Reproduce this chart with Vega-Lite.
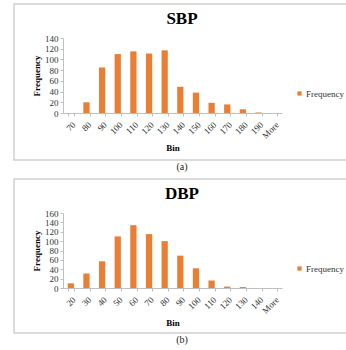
{
  "$schema": "https://vega.github.io/schema/vega-lite/v6.json",
  "padding": {"left": 13, "top": 3, "right": 0, "bottom": 0},
  "config": {
    "font": "Liberation Serif",
    "view": {"stroke": "#cfcfcf", "strokeWidth": 1.5},
    "axis": {"grid": false, "domainColor": "#bfbfbf", "tickColor": "#bfbfbf", "labelFont": "Liberation Serif", "labelFontSize": 9, "labelColor": "#333333", "titleFont": "Liberation Serif", "titleFontSize": 9, "titleFontWeight": "bold", "titleColor": "#000000", "tickSize": 3, "labelPadding": 2},
    "legend": {"padding": 0, "labelFont": "Liberation Serif", "labelFontSize": 9, "labelColor": "#333333", "symbolType": "square", "symbolSize": 18, "labelOffset": 2, "labelLimit": 60},
    "concat": {"spacing": 6}
  },
  "datasets": {
    "sbp": [
      {"bin": "70", "freq": 0}, {"bin": "80", "freq": 20}, {"bin": "90", "freq": 85}, {"bin": "100", "freq": 110},
      {"bin": "110", "freq": 115}, {"bin": "120", "freq": 111}, {"bin": "130", "freq": 117}, {"bin": "140", "freq": 49},
      {"bin": "150", "freq": 38}, {"bin": "160", "freq": 19}, {"bin": "170", "freq": 16}, {"bin": "180", "freq": 7},
      {"bin": "190", "freq": 1}, {"bin": "More", "freq": 0}
    ],
    "dbp": [
      {"bin": "20", "freq": 10}, {"bin": "30", "freq": 31}, {"bin": "40", "freq": 57}, {"bin": "50", "freq": 110},
      {"bin": "60", "freq": 134}, {"bin": "70", "freq": 115}, {"bin": "80", "freq": 100}, {"bin": "90", "freq": 69},
      {"bin": "100", "freq": 42}, {"bin": "110", "freq": 16}, {"bin": "120", "freq": 3}, {"bin": "130", "freq": 2},
      {"bin": "140", "freq": 0}, {"bin": "More", "freq": 0}
    ]
  },
  "resolve": {"scale": {"color": "independent"}, "legend": {"color": "independent"}},
  "vconcat": [
    {
      "title": {"text": "(a)", "orient": "bottom", "fontSize": 10, "fontWeight": "normal", "offset": 1, "anchor": "middle", "color": "#222222"},
      "vconcat": [
        {
          "data": {"name": "sbp"},
          "width": 336,
          "height": 156,
          "title": {"text": "SBP", "fontSize": 17, "fontWeight": "bold", "frame": "group", "anchor": "middle", "offset": -24},
          "mark": {"type": "bar", "color": "#E97E35"},
          "encoding": {
            "x": {"field": "bin", "type": "nominal", "sort": null,
              "scale": {"range": [49, 268], "paddingInner": 0.6, "paddingOuter": 0.3},
              "axis": {"title": "Bin", "labelAngle": -45, "offset": -47, "tickBand": "extent", "labelPadding": 4, "titlePadding": 3}},
            "y": {"field": "freq", "type": "quantitative",
              "scale": {"domain": [0, 140], "range": [109, 34]},
              "axis": {"title": "Frequency", "offset": -49, "values": [0, 20, 40, 60, 80, 100, 120, 140], "titlePadding": 3}},
            "color": {"datum": "Frequency", "type": "nominal", "scale": {"range": ["#E97E35"]},
              "legend": {"title": null, "orient": "none", "legendX": 281, "legendY": 85}}
          }
        }
      ]
    },
    {
      "title": {"text": "(b)", "orient": "bottom", "fontSize": 10, "fontWeight": "normal", "offset": 1, "anchor": "middle", "color": "#222222"},
      "vconcat": [
        {
          "data": {"name": "dbp"},
          "width": 336,
          "height": 154,
          "title": {"text": "DBP", "fontSize": 17, "fontWeight": "bold", "frame": "group", "anchor": "middle", "offset": -24},
          "mark": {"type": "bar", "color": "#E97E35"},
          "encoding": {
            "x": {"field": "bin", "type": "nominal", "sort": null,
              "scale": {"range": [49, 268], "paddingInner": 0.6, "paddingOuter": 0.3},
              "axis": {"title": "Bin", "labelAngle": -45, "offset": -45, "tickBand": "extent", "labelPadding": 4, "titlePadding": 3}},
            "y": {"field": "freq", "type": "quantitative",
              "scale": {"domain": [0, 160], "range": [109, 34]},
              "axis": {"title": "Frequency", "offset": -49, "values": [0, 20, 40, 60, 80, 100, 120, 140, 160], "titlePadding": 3}},
            "color": {"datum": "Frequency", "type": "nominal", "scale": {"range": ["#E97E35"]},
              "legend": {"title": null, "orient": "none", "legendX": 281, "legendY": 85}}
          }
        }
      ]
    }
  ]
}
